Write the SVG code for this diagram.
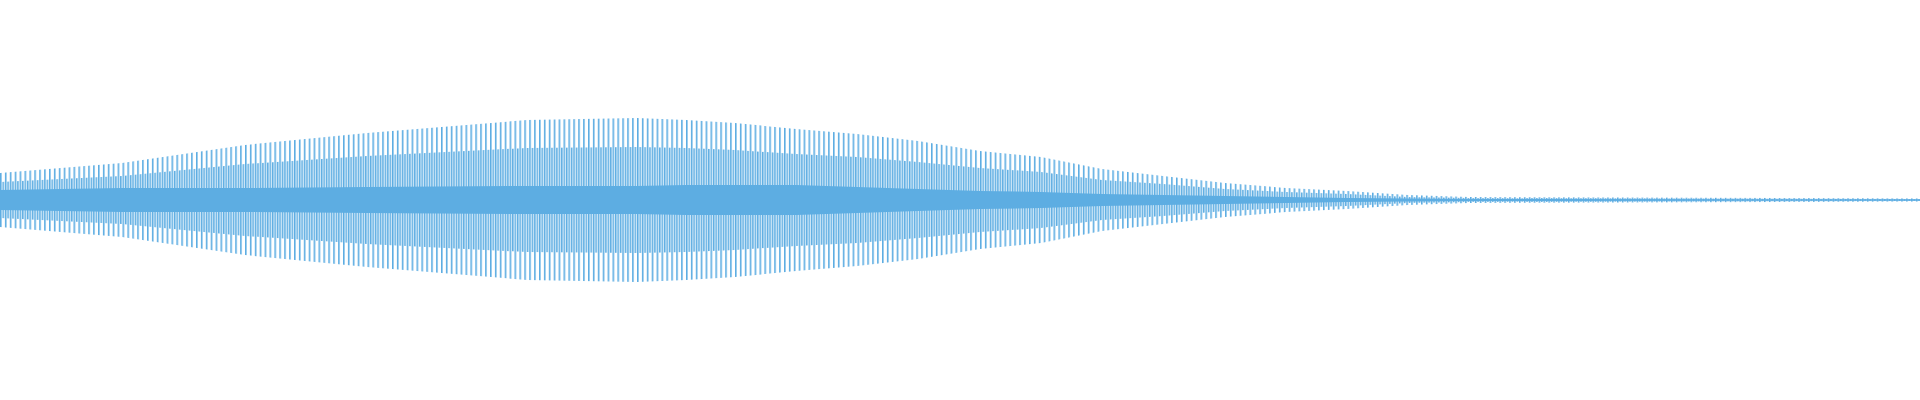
<svg xmlns="http://www.w3.org/2000/svg" width="1920" height="400" viewBox="0 0 1920 400">
<defs>
<pattern id="st" patternUnits="userSpaceOnUse" width="4.9" height="400"><rect x="0" y="0" width="1.6" height="400" fill="#5dade2"/></pattern>
<pattern id="st2" patternUnits="userSpaceOnUse" x="2.45" width="4.9" height="400"><rect x="0" y="0" width="1.6" height="400" fill="#5dade2"/></pattern>
</defs>
<rect width="1920" height="400" fill="#fff"/>
<g id="waveform">
<polygon fill="url(#st)" points="0,173 122,163 245,145 367,133 527,120 637,118 686,120 735,123 796,129 857,134 918,141 980,151 1041,157 1102,169 1163,176 1225,183 1286,188 1347,191 1408,195 1469,197 1920,198.5 1920,201.5 1469,203 1408,205 1347,209 1286,212 1225,217 1163,224 1102,231 1041,243 980,249 918,259 857,266 796,271 735,277 686,280 637,282 527,280 367,267 245,255 122,237 0,227"/>
<polygon fill="url(#st2)" points="0,182 122,176 245,164 367,156 527,148 637,147 686,148 735,150 796,154 857,157 918,162 980,168 1041,172 1102,180 1163,184 1225,189 1286,192 1347,194 1408,197 1469,198 1920,199 1920,201 1469,202 1408,203 1347,206 1286,208 1225,211 1163,216 1102,220 1041,228 980,232 918,238 857,243 796,246 735,250 686,252 637,253 527,252 367,244 245,236 122,224 0,218"/>
<polygon fill="#5dade2" points="0,190 122,188 245,188 367,187 527,186 637,186 686,185 735,185 796,185 857,187 918,189 980,191 1041,192 1102,194 1163,195 1225,196 1286,197 1347,198 1408,198.5 1469,199 1920,199.3 1920,200.7 1469,201 1408,201.5 1347,202 1286,203 1225,204 1163,205 1102,206 1041,208 980,209 918,211 857,213 796,215 735,215 686,215 637,214 527,214 367,213 245,212 122,212 0,210"/>
</g>
</svg>
